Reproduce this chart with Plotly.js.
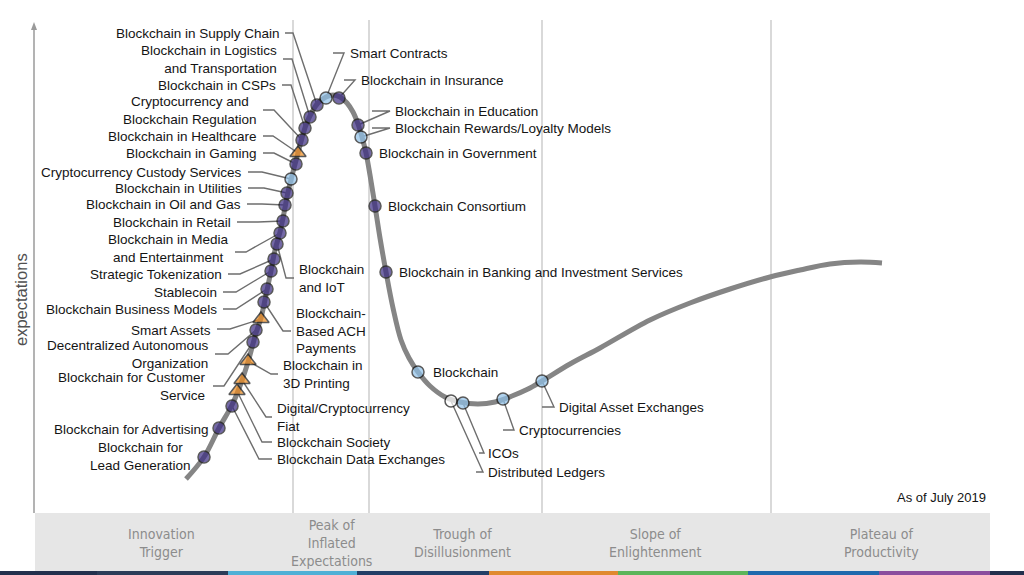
<!DOCTYPE html>
<html>
<head>
<meta charset="utf-8">
<script src="https://cdn.plot.ly/plotly-3.0.1.min.js"></script>
<style>html,body{margin:0;padding:0;background:#fff;}#chart{width:1024px;height:575px;}</style>
</head>
<body>
<div id="chart"></div>
<script>
// ---- Hype-cycle curve (x = maturity position, y = expectations; screen-like units) ----
const curveX = [186,204,219,232,240,248,256,261,266,271,275,280,284,288,293,298,302,306,312,318,326,333,340,347,353,358,362,366,370,375,380,386,393,401,409,418,430,445,460,478,495,512,528,542,570,600,650,690,730,770,800,830,860,882];
const curveY = [479,457,428,405,386,362,333,318,295,271,250,232,213,192,172,153,138,125,112,103,97,95,97,103,112,124,137,153,175,206,238,272,308,340,358,372,386,397,402,404,402,396,389,381,364,348,320,303,289,277,270,264,262,263];

// ---- Technologies on the curve ----
const techNames = [
  "Blockchain in Supply Chain","Blockchain in Logistics<br>and Transportation","Blockchain in CSPs",
  "Cryptocurrency and<br>Blockchain Regulation","Blockchain in Healthcare","Blockchain in Gaming",
  "Cryptocurrency Custody Services","Blockchain in Utilities","Blockchain in Oil and Gas",
  "Blockchain in Retail","Blockchain in Media<br>and Entertainment","Blockchain<br>and IoT",
  "Strategic Tokenization","Stablecoin","Blockchain Business Models",
  "Blockchain-<br>Based ACH<br>Payments","Smart Assets","Decentralized Autonomous<br>Organization",
  "Blockchain for Customer<br>Service","Blockchain in<br>3D Printing","Digital/Cryptocurrency<br>Fiat",
  "Blockchain Society","Blockchain Data Exchanges","Blockchain for Advertising",
  "Blockchain for<br>Lead Generation","Smart Contracts","Blockchain in Insurance",
  "Blockchain in Education","Blockchain Rewards/Loyalty Models","Blockchain in Government",
  "Blockchain Consortium","Blockchain in Banking and Investment Services","Blockchain",
  "Distributed Ledgers","ICOs","Cryptocurrencies","Digital Asset Exchanges"
];
const techX = [317,310,305,302,298,296,291,287,285,283,280,277,274,271,267,264,261,256,253,248,242,237,232,219,204,326,339,358,361,366,375,386,418,451,463,503,542];
const techY = [105,117,128,140,153,164,179,193,205,221,233,244,259,271,289,302,319,330,342,361,380,391,406,428,457,98,98,125,137,153,206,272,372,401,403,399,381];
// time to plateau: d = 5-10 yrs (dark), l = 2-5 yrs (light), w = <2 yrs (white), t = >10 yrs (triangle)
const techKind = ["d","d","d","d","t","d","l","d","d","d","d","d","d","d","d","d","t","d","d","t","t","t","d","d","d","l","d","d","l","d","d","d","l","w","l","l","l"];

// ---- Phases ----
const phaseNames = ["Innovation<br>Trigger","Peak of<br>Inflated<br>Expectations","Trough of<br>Disillusionment","Slope of<br>Enlightenment","Plateau of<br>Productivity"];
const phaseDividers = [293,369,542,771];

// ---- Label placement (layout only) ----
const LBL = [
 {x:281,y:33, a:"right",al:"right",L:[[285,33],[293,33]]},
 {x:278,y:59, a:"right",al:"right",L:[[283,59],[292,59]]},
 {x:277,y:85, a:"right",al:"right",L:[[282,85],[291,85]]},
 {x:258,y:110,a:"right",al:"center",L:[[263,110],[274,110]]},
 {x:258,y:136,a:"right",al:"right",L:[[263,136],[273,136]]},
 {x:258,y:153,a:"right",al:"right",L:[[263,153],[274,153]]},
 {x:243,y:172,a:"right",al:"right",L:[[248,172],[262,172]]},
 {x:243,y:188,a:"right",al:"right",L:[[248,188],[264,188]]},
 {x:242,y:204,a:"right",al:"right",L:[[247,204],[262,204]]},
 {x:232,y:222,a:"right",al:"right",L:[[237,222],[258,222]]},
 {x:230,y:248,a:"right",al:"center",L:[[235,252],[246,252]]},
 {x:298,y:278,a:"left",al:"left",L:[[294,278],[286,278]]},
 {x:223,y:274,a:"right",al:"right",L:[[228,274],[240,274]]},
 {x:218,y:292,a:"right",al:"right",L:[[223,292],[236,292]]},
 {x:218,y:309,a:"right",al:"right",L:[[223,309],[236,309]]},
 {x:295,y:331,a:"left",al:"left",L:[[291,331],[283,331]]},
 {x:212,y:330,a:"right",al:"right",L:[[217,329],[230,329]]},
 {x:210,y:354,a:"right",al:"right",L:[[215,354],[228,354]]},
 {x:207,y:386,a:"right",al:"right",L:[[213,386],[224,386]]},
 {x:282,y:374,a:"left",al:"left",L:[[278,374],[271,374]]},
 {x:276,y:417,a:"left",al:"left",L:[[272,417],[266,417]]},
 {x:276,y:442,a:"left",al:"left",L:[[272,442],[262,442]]},
 {x:276,y:459,a:"left",al:"left",L:[[272,459],[259,459]]},
 {x:210,y:429,a:"right",al:"right",L:null},
 {x:140,y:456,a:"center",al:"center",L:null},
 {x:349,y:53, a:"left",al:"left",L:[[333,53],[344,53]]},
 {x:360,y:80, a:"left",al:"left",L:[[344,80],[355,80]]},
 {x:394,y:111,a:"left",al:"left",L:[[372,111],[390,111]]},
 {x:394,y:128,a:"left",al:"left",L:[[372,128],[390,128]]},
 {x:378,y:153,a:"left",al:"left",L:null},
 {x:387,y:206,a:"left",al:"left",L:null},
 {x:398,y:272,a:"left",al:"left",L:null},
 {x:432,y:372,a:"left",al:"left",L:null},
 {x:487,y:472,a:"left",al:"left",L:[[476,472],[483,472]]},
 {x:487,y:453,a:"left",al:"left",L:[[479,453],[484,453]]},
 {x:518,y:430,a:"left",al:"left",L:[[503,430],[514,430]]},
 {x:558,y:407,a:"left",al:"left",L:[[542,407],[554,407]]}
];
const phaseX = [161,331,462,655,881];
const phaseY = [543,543,543,543,543];

const FILL = {d:"#3a2b82", l:"#8fc1e9", w:"#ffffff", t:"#f08c1e"};
const SYM = {d:"circle", l:"circle", w:"circle", t:"triangle-up"};
const SIZE = {d:12, l:12, w:12, t:14};

const traces = [
  {x:curveX, y:curveY, mode:"lines", line:{shape:"spline", smoothing:1, color:"#858585", width:5}, hoverinfo:"skip"},
  {x:techX, y:techY, mode:"markers", text:techNames, hoverinfo:"text",
   marker:{color:techKind.map(k=>FILL[k]), symbol:techKind.map(k=>SYM[k]), size:techKind.map(k=>SIZE[k]),
           line:{color:"#141414", width:1.5}}}
];

const shapes = [];
// phase band
shapes.push({type:"rect", xref:"x", yref:"y", x0:35, x1:990, y0:513, y1:571, fillcolor:"#e6e6e6", line:{width:0}, layer:"below"});
// phase dividers
phaseDividers.forEach(d => shapes.push({type:"line", x0:d, x1:d, y0:20, y1:513, line:{color:"#cdcdcd", width:1.5}, layer:"below"}));
// y axis with arrow
shapes.push({type:"line", x0:34, x1:34, y0:26, y1:513, line:{color:"#9a9a9a", width:1.5}, layer:"below"});
shapes.push({type:"path", path:"M 31 30 L 34 22 L 37 30 Z", fillcolor:"#9a9a9a", line:{width:0}, layer:"below"});
// bottom colour strip
const strip = [[0,97,"#22304d"],[97,228,"#2b3c58"],[228,357,"#4fb0d6"],[357,489,"#223e66"],[489,618,"#e0892e"],[618,748,"#5cb55a"],[748,879,"#1f69ad"],[879,990,"#8a4d9e"],[990,1024,"#22304d"]];
strip.forEach(s => shapes.push({type:"rect", x0:s[0], x1:s[1], y0:571, y1:575, fillcolor:s[2], line:{width:0}, layer:"below"}));
// leader lines
LBL.forEach((l,i) => {
  if (!l.L) return;
  const pts = [[techX[i], techY[i]]].concat(l.L.slice().reverse());
  const p = pts.map((q,j)=>(j?"L ":"M ")+q[0]+" "+q[1]).join(" ");
  shapes.push({type:"path", path:p, line:{color:"#6e6e6e", width:1.4}, layer:"below"});
});

const FONT = "Liberation Sans, Arial, sans-serif";
const annotations = LBL.map((l,i)=>({
  x:l.x, y:l.y, xref:"x", yref:"y", text:techNames[i], showarrow:false,
  xanchor:l.a, yanchor:"middle", align:l.al, borderpad:0,
  font:{family:FONT, size:13.5, color:"#141414"}
}));
phaseNames.forEach((p,i)=>annotations.push({x:phaseX[i], y:phaseY[i], text:p, showarrow:false, xanchor:"center", yanchor:"middle", align:"center",
  font:{family:"DejaVu Sans Condensed, Liberation Sans Narrow, sans-serif", size:14, color:"#8c8c8c"}}));
annotations.push({x:988, y:497, text:"As of July 2019", showarrow:false, xanchor:"right", yanchor:"middle",
  font:{family:FONT, size:13, color:"#141414"}});
annotations.push({x:21, y:300, text:"expectations", showarrow:false, textangle:-90, xanchor:"center", yanchor:"middle",
  font:{family:FONT, size:16.5, color:"#505050"}});

const layout = {
  width:1024, height:575, margin:{l:0,r:0,t:0,b:0},
  paper_bgcolor:"#ffffff", plot_bgcolor:"#ffffff", showlegend:false,
  xaxis:{range:[0,1024], visible:false, fixedrange:true},
  yaxis:{range:[575,0], visible:false, fixedrange:true},
  shapes:shapes, annotations:annotations
};
Plotly.newPlot("chart", traces, layout, {displayModeBar:false, staticPlot:true});
</script>
</body>
</html>
